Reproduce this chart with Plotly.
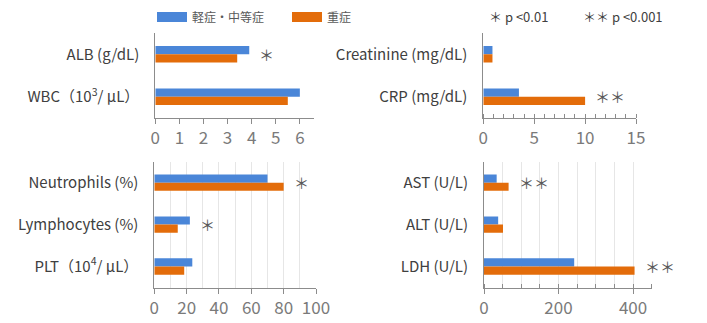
import plotly.graph_objects as go

# ---------------- data ----------------
series_names = ["軽症・中等症", "重症"]
colors = ["#4a86d8", "#e36c0a"]

tl_categories = ["ALB (g/dL)", "WBC（10<sup>3</sup>/ μL）"]
tl_mild = [3.9, 6.0]
tl_severe = [3.4, 5.5]
tl_sig = ["＊", ""]

tr_categories = ["Creatinine (mg/dL)", "CRP (mg/dL)"]
tr_mild = [0.9, 3.5]
tr_severe = [0.9, 10.0]
tr_sig = ["", "＊＊"]

bl_categories = ["Neutrophils (%)", "Lymphocytes (%)", "PLT（10<sup>4</sup>/ μL）"]
bl_mild = [70, 22, 23.5]
bl_severe = [80, 14.5, 18.5]
bl_sig = ["＊", "＊", ""]

br_categories = ["AST (U/L)", "ALT (U/L)", "LDH (U/L)"]
br_mild = [34, 38, 242]
br_severe = [66, 51, 404]
br_sig = ["＊＊", "", "＊＊"]

sig_legend = ["＊ p <0.01", "＊＊ p <0.001"]

# ---------------- layout helpers ----------------
W, H = 707, 323
FONT = "Noto Sans CJK JP, Noto Sans, sans-serif"
LABEL_COLOR = "#404040"
TICK_COLOR = "#7a7a7a"
AXIS_COLOR = "#8c8c8c"

def xd(a, b):
    return [a / W, b / W]

def yd(top, bottom):
    return [1 - bottom / H, 1 - top / H]

panels = [
    # categories, mild, severe, sig, xdomain px, ydomain px, xrange, dtick, minor(dtick, ticks), grid
    (tl_categories, tl_mild, tl_severe, tl_sig, (155.3, 314.3), (33, 118), [0, 6.6], 1, None, False),
    (tr_categories, tr_mild, tr_severe, tr_sig, (483.3, 636.0), (33, 118), [0, 15], 5, (1, "inside"), False),
    (bl_categories, bl_mild, bl_severe, bl_sig, (154.3, 316.0), (161.7, 287.5), [0, 100], 20, (10, ""), True),
    (br_categories, br_mild, br_severe, br_sig, (484.0, 651.7), (161.7, 287.5), [0, 450], 200, (50, "inside"), True),
]

fig = go.Figure()
annotations = []

for i, (cats, mild, severe, sig, xdp, ydp, xr, dt, minor, grid) in enumerate(panels):
    n = i + 1
    xa = "x" if n == 1 else f"x{n}"
    ya = "y" if n == 1 else f"y{n}"
    for name, vals, col in zip(series_names, [mild, severe], colors):
        fig.add_trace(go.Bar(
            x=vals, y=cats, orientation="h", name=name,
            marker=dict(color=col, line=dict(width=0)),
            xaxis=xa, yaxis=ya, showlegend=False,
            offsetgroup=name, hoverinfo="x+y",
        ))
    xkey = "xaxis" if n == 1 else f"xaxis{n}"
    ykey = "yaxis" if n == 1 else f"yaxis{n}"
    xaxis = dict(
        domain=xd(*xdp), range=xr, anchor=ya, dtick=dt, tick0=0,
        showline=True, linecolor=AXIS_COLOR, linewidth=1,
        ticks="outside", ticklen=5, tickcolor=AXIS_COLOR,
        tickfont=dict(family=FONT, size=17, color=TICK_COLOR),
        showgrid=grid, gridcolor="#e6e6e6", gridwidth=1,
        zeroline=False, fixedrange=True, automargin=False,
    )
    if minor is not None:
        mdt, mticks = minor
        xaxis["minor"] = dict(dtick=mdt, ticks=mticks, ticklen=4,
                              tickcolor=AXIS_COLOR, showgrid=grid,
                              gridcolor="#e6e6e6", gridwidth=1)
    fig.update_layout({xkey: xaxis})
    fig.update_layout({ykey: dict(
        domain=yd(*ydp), anchor=xa, type="category",
        categoryorder="array", categoryarray=cats,
        range=[len(cats) - 0.5, -0.5],
        showline=True, linecolor=AXIS_COLOR, linewidth=1,
        ticks="", ticklabelstandoff=12, automargin=False,
        tickfont=dict(family=FONT, size=15, color=LABEL_COLOR),
        showgrid=False, zeroline=False, fixedrange=True,
    )})
    for c, m, s, star in zip(cats, mild, severe, sig):
        if star:
            annotations.append(dict(
                x=max(m, s), y=c, xref=xa, yref=ya, text=star,
                showarrow=False, xanchor="left", yanchor="middle",
                xshift=8, font=dict(family=FONT, size=15, color="#595959"),
            ))

# series legend (drawn as shapes + text)
legend_items = [(157, 187, 190), (292, 322, 325)]
shapes = []
for (x0, x1, tx), name, col in zip(legend_items, series_names, colors):
    shapes.append(dict(type="rect", xref="paper", yref="paper",
                       x0=x0 / W, x1=x1 / W, y0=1 - 22 / H, y1=1 - 12 / H,
                       fillcolor=col, line=dict(width=0)))
    annotations.append(dict(x=tx / W, y=1 - 17 / H, xref="paper", yref="paper",
                            text=name, showarrow=False, xanchor="left", yanchor="middle",
                            font=dict(family=FONT, size=12, color="#595959")))

# significance legend
for txt, x0 in zip(sig_legend, [487, 581]):
    annotations.append(dict(x=x0 / W, y=1 - 17 / H, xref="paper", yref="paper",
                            text=txt, showarrow=False, xanchor="left", yanchor="middle",
                            font=dict(family=FONT, size=13, color="#404040")))

fig.update_layout(
    width=W, height=H, autosize=False,
    margin=dict(l=0, r=0, t=0, b=0, pad=0),
    paper_bgcolor="white", plot_bgcolor="white",
    barmode="group", bargap=0.61, bargroupgap=0,
    annotations=annotations, shapes=shapes,
    font=dict(family=FONT),
)

fig.write_html("out.html", config={"displayModeBar": False, "responsive": False},
               post_script="document.body.style.margin='0';document.body.style.overflow='hidden';")
